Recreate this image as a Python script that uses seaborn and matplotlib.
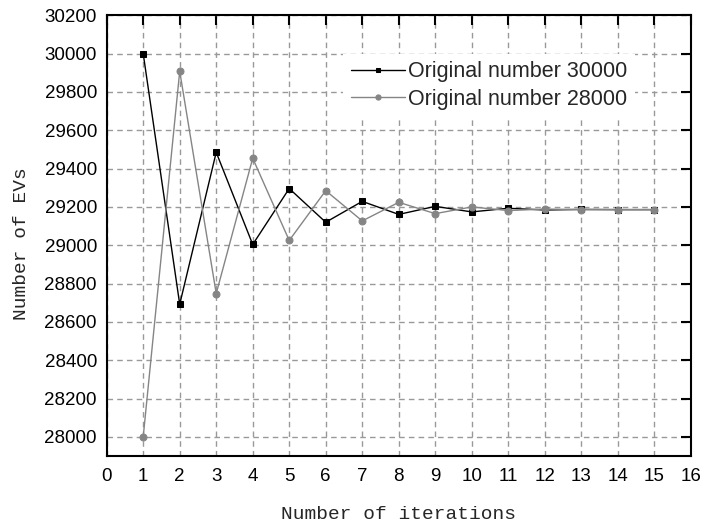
import matplotlib
matplotlib.use("Agg")
import matplotlib.pyplot as plt
import seaborn as sns
import numpy as np

iterations = [1, 2, 3, 4, 5, 6, 7, 8, 9, 10, 11, 12, 13, 14, 15]
series_30000 = [30000, 28692, 29485, 29004, 29296, 29120, 29229, 29161, 29203,
                29174, 29193, 29184, 29187, 29186, 29186]
series_28000 = [28000, 29908, 28748, 29454, 29025, 29285, 29127, 29224, 29165,
                29200, 29181, 29189, 29186, 29186, 29186]
label_30000 = "Original number 30000"
label_28000 = "Original number 28000"

sns.set_style("white")
plt.rcParams['font.family'] = ['Liberation Sans', 'DejaVu Sans']

fig = plt.figure(figsize=(7.02, 5.29), dpi=100)
ax = fig.add_axes([0.152, 0.138, 0.832, 0.833])

sns.lineplot(x=iterations, y=series_30000, ax=ax, color="black", lw=1.0,
             marker="s", markersize=4.5, markeredgecolor="black", label=label_30000, sort=False)
sns.lineplot(x=iterations, y=series_28000, ax=ax, color="#858585", lw=1.0,
             marker="o", markersize=5, markeredgecolor="#858585", label=label_28000, sort=False)

ax.set_xlim(0, 16)
ax.set_ylim(27900, 30200)
ax.set_xticks(range(0, 17))
ax.set_yticks(range(28000, 30201, 200))

ax.grid(True, linestyle=(0, (4, 3)), color="#999999", linewidth=1.0)
ax.set_axisbelow(True)
for s in ax.spines.values():
    s.set_visible(True)
    s.set_linewidth(1.5)
    s.set_color("black")
ax.tick_params(direction="in", length=7, width=1.5, top=True, right=True,
               labeltop=False, labelright=False, labelsize=13.5, colors="black")
ax.tick_params(axis="x", pad=9)
ax.tick_params(axis="y", pad=7)

ax.set_xlabel("Number of iterations", fontsize=14, family="Liberation Mono")
ax.set_ylabel("Number of EVs", fontsize=14, family="Liberation Mono")
ax.xaxis.set_label_coords(0.5, -0.113)
ax.yaxis.set_label_coords(-0.131, 0.483)

leg = ax.legend(loc="upper left", bbox_to_anchor=(0.405, 0.913), frameon=True, fontsize=15.5,
                handlelength=2.5, handletextpad=0.15, labelspacing=0.3, borderpad=0.35,
                markerscale=0.75, borderaxespad=0)
leg.get_frame().set_edgecolor("none")
leg.get_frame().set_facecolor("white")
leg.get_frame().set_alpha(1.0)
leg.get_frame().set_boxstyle("square", pad=0)

fig.savefig("out.png", dpi=100)
